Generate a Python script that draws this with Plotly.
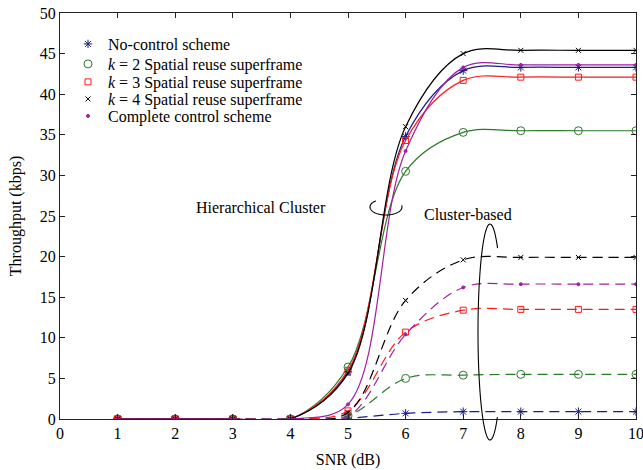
import numpy as np
import plotly.graph_objects as go

snr = [1, 2, 3, 4, 5, 6, 7, 8, 9, 10]

# Hierarchical cluster (solid)
hc_noctrl = [0, 0, 0, 0, 5.8, 34.8, 42.9, 43.3, 43.3, 43.3]
hc_k2 = [0, 0, 0, 0, 6.4, 30.5, 35.3, 35.5, 35.5, 35.5]
hc_k3 = [0, 0, 0, 0, 6.0, 34.3, 41.7, 42.1, 42.1, 42.1]
hc_k4 = [0, 0, 0, 0, 5.6, 36.0, 45.0, 45.4, 45.4, 45.4]
hc_cc = [0, 0, 0, 0, 1.8, 33.0, 43.3, 43.6, 43.6, 43.6]

# Cluster-based (dashed)
cb_noctrl = [0, 0, 0, 0, 0.1, 0.7, 0.9, 0.9, 0.9, 0.9]
cb_k2 = [0, 0, 0, 0, 0.4, 5.0, 5.4, 5.5, 5.5, 5.5]
cb_k3 = [0, 0, 0, 0, 1.0, 10.7, 13.4, 13.5, 13.5, 13.5]
cb_k4 = [0, 0, 0, 0, 0.8, 14.6, 19.6, 19.9, 19.9, 19.9]
cb_cc = [0, 0, 0, 0, 0.3, 10.4, 16.2, 16.6, 16.6, 16.6]

legend_names = [
    "No-control scheme",
    "<i>k</i> = 2 Spatial reuse superframe",
    "<i>k</i> = 3 Spatial reuse superframe",
    "<i>k</i> = 4 Spatial reuse superframe",
    "Complete control scheme",
]

NAVY = "#1a1a8c"
GREEN = "#2a7a2a"
RED = "#ff1a1a"
BLACK = "#000000"
PURPLE = "#a020a0"

styles = [
    dict(color=NAVY, symbol="asterisk-open", size=7),
    dict(color=GREEN, symbol="circle-open", size=8),
    dict(color=RED, symbol="square-open", size=6),
    dict(color=BLACK, symbol="x-thin-open", size=5),
    dict(color=PURPLE, symbol="circle", size=3),
]

hc_series = [hc_noctrl, hc_k2, hc_k3, hc_k4, hc_cc]
cb_series = [cb_noctrl, cb_k2, cb_k3, cb_k4, cb_cc]

fig = go.Figure()

for ys, st in zip(cb_series, styles):
    fig.add_trace(go.Scatter(
        x=snr, y=ys, mode="lines+markers", showlegend=False,
        line=dict(color=st["color"], width=1.2, dash="10px,6px", shape="spline"),
        marker=dict(symbol=st["symbol"], size=st["size"], color=st["color"],
                    line=dict(width=1, color=st["color"])),
    ))

for ys, st in zip(hc_series, styles):
    fig.add_trace(go.Scatter(
        x=snr, y=ys, mode="lines+markers", showlegend=False,
        line=dict(color=st["color"], width=1.2, shape="spline"),
        marker=dict(symbol=st["symbol"], size=st["size"], color=st["color"],
                    line=dict(width=1, color=st["color"])),
    ))

# plot area at window pixels x 60..636, y 13..419
FIG_W, FIG_H = 643, 470
L, T, W, H = 60, 13, 576, 406


def to_paper(px, py):
    return (px - L) / W, (T + H - py) / H


legend_rows = [44, 64, 82, 99, 116]
legend_layout = {}
for i, (name, st, row) in enumerate(zip(legend_names, styles, legend_rows)):
    key = "legend" if i == 0 else f"legend{i + 1}"
    fig.add_trace(go.Scatter(
        x=[None], y=[None], mode="markers", name=name, legend=key,
        marker=dict(symbol=st["symbol"], size=st["size"], color=st["color"],
                    line=dict(width=1, color=st["color"])),
    ))
    lx, ly = to_paper(68, row)
    legend_layout[key] = dict(x=lx, y=ly, xanchor="left", yanchor="middle",
                              bgcolor="rgba(0,0,0,0)", font=dict(size=16),
                              borderwidth=0)


def arc_path(cx, cy, rx, ry, t0, t1, n=80):
    ts = np.radians(np.linspace(t0, t1, n))
    pts = [to_paper(cx + rx * np.cos(t), cy - ry * np.sin(t)) for t in ts]
    return "M " + " L ".join(f"{a:.5f},{b:.5f}" for a, b in pts)


fig.add_shape(type="path", xref="paper", yref="paper",
              path=arc_path(386, 207, 16, 8, 130, 372),
              line=dict(color="black", width=1.1))
fig.add_shape(type="path", xref="paper", yref="paper",
              path=arc_path(490, 332, 12, 108, 51, 308),
              line=dict(color="black", width=1.1))

hx, hy = to_paper(261, 207)
cx_, cy_ = to_paper(514, 214)
fig.add_annotation(x=hx, y=hy, xref="paper", yref="paper", text="Hierarchical Cluster",
                   showarrow=False, font=dict(size=16))
fig.add_annotation(x=cx_, y=cy_, xref="paper", yref="paper", text="Cluster-based",
                   showarrow=False, font=dict(size=16))

axis_common = dict(showline=True, linecolor="#222", linewidth=1, mirror="ticks",
                   ticks="inside", ticklen=5, tickcolor="#222", showgrid=False,
                   zeroline=False, tickfont=dict(size=16), automargin=False)

fig.update_xaxes(range=[0, 10], dtick=1, tick0=0, ticklabeloverflow="allow",
                 title=dict(text="SNR (dB)", font=dict(size=16), standoff=12), **axis_common)
fig.update_yaxes(range=[0, 50], dtick=5, tick0=0,
                 title=dict(text="Throughput (kbps)", font=dict(size=16), standoff=14), **axis_common)

fig.update_layout(
    width=FIG_W, height=FIG_H,
    margin=dict(l=L, r=FIG_W - L - W, t=T, b=FIG_H - T - H),
    paper_bgcolor="white", plot_bgcolor="white",
    font=dict(family="Liberation Serif", color="black", size=16),
    **legend_layout,
)

fig.write_html(
    "out.html",
    config={"displayModeBar": False},
    post_script=(
        "document.documentElement.style.margin='0';"
        "document.documentElement.style.padding='0';"
        "document.documentElement.style.overflow='hidden';"
        "document.body.style.margin='0';"
        "document.body.style.padding='0';"
        "document.body.style.overflow='hidden';"
    ),
)
